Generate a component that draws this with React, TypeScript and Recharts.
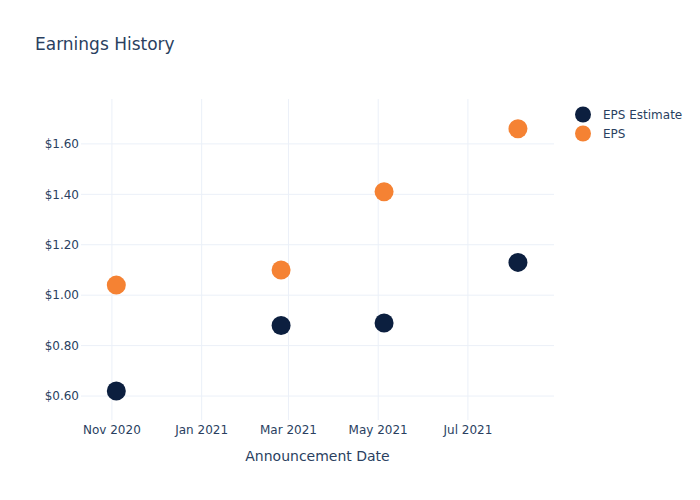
import React from "react";
import {
  ScatterChart,
  Scatter,
  XAxis,
  YAxis,
  CartesianGrid,
} from "recharts";

const announceDates = [
  Date.UTC(2020, 10, 4),
  Date.UTC(2021, 1, 24),
  Date.UTC(2021, 4, 5),
  Date.UTC(2021, 7, 4),
];
const epsEstimate = [0.62, 0.88, 0.89, 1.13];
const epsActual = [1.04, 1.1, 1.41, 1.66];

const xTicks = [
  Date.UTC(2020, 10, 1),
  Date.UTC(2021, 0, 1),
  Date.UTC(2021, 2, 1),
  Date.UTC(2021, 4, 1),
  Date.UTC(2021, 6, 1),
];
const yTicks = [0.6, 0.8, 1.0, 1.2, 1.4, 1.6];
const months = ["Jan", "Feb", "Mar", "Apr", "May", "Jun", "Jul", "Aug", "Sep", "Oct", "Nov", "Dec"];

const NAVY = "#0c1f3f";
const ORANGE = "#f58233";
const TEXT = "#2a3f5f";
const FONT = "'DejaVu Sans', Verdana, sans-serif";

const estimateData = announceDates.map((d, i) => ({ date: d, value: epsEstimate[i] }));
const actualData = announceDates.map((d, i) => ({ date: d, value: epsActual[i] }));

const Dot = (color: string) => (props: any) => (
  <circle cx={props.cx} cy={props.cy} r={9.5} fill={color} />
);

const series = [
  { name: "EPS Estimate", color: NAVY },
  { name: "EPS", color: ORANGE },
];

function LegendBox() {
  return (
    <div
      style={{
        position: "absolute",
        left: 574,
        top: 105,
        fontFamily: FONT,
        fontSize: 12,
        color: TEXT,
      }}
    >
      {series.map((s) => (
        <div key={s.name} style={{ display: "flex", alignItems: "center", height: 19 }}>
          <svg width={20} height={19}>
            <circle cx={9} cy={9.5} r={8} fill={s.color} />
          </svg>
          <span style={{ marginLeft: 9 }}>{s.name}</span>
        </div>
      ))}
    </div>
  );
}

export default function App() {
  return (
    <div style={{ position: "absolute", left: 0, top: 0, width: 700, height: 500, background: "#fff" }}>
      <div
        style={{
          position: "absolute",
          left: 35,
          top: 34,
          fontFamily: FONT,
          fontSize: 17,
          color: TEXT,
        }}
      >
        Earnings History
      </div>
      <ScatterChart
        width={700}
        height={500}
        margin={{ top: 99, right: 146, bottom: 0, left: 1 }}
        style={{ fontFamily: FONT }}
      >
        <CartesianGrid stroke="#ebf0f8" strokeWidth={1} syncWithTicks />
        <XAxis
          type="number"
          dataKey="date"
          domain={[Date.UTC(2020, 9, 11), Date.UTC(2021, 7, 28, 12)]}
          ticks={xTicks}
          tickFormatter={(v: number) => {
            const d = new Date(v);
            return `${months[d.getUTCMonth()]} ${d.getUTCFullYear()}`;
          }}
          axisLine={false}
          tickLine={false}
          tickSize={0}
          tickMargin={5}
          height={80}
          tick={{ fill: TEXT, fontSize: 12 }}
          label={{
            value: "Announcement Date",
            position: "insideTop",
            offset: 31,
            fill: TEXT,
            fontSize: 14,
          }}
          allowDataOverflow
        />
        <YAxis
          type="number"
          dataKey="value"
          domain={[0.505, 1.778]}
          ticks={yTicks}
          tickFormatter={(v: number) => `$${v.toFixed(2)}`}
          axisLine={false}
          tickLine={false}
          tickSize={0}
          tickMargin={2}
          width={80}
          tick={{ fill: TEXT, fontSize: 12 }}
          allowDataOverflow
        />
        <Scatter
          name="EPS Estimate"
          data={estimateData}
          fill={NAVY}
          shape={Dot(NAVY)}
          isAnimationActive={false}
        />
        <Scatter
          name="EPS"
          data={actualData}
          fill={ORANGE}
          shape={Dot(ORANGE)}
          isAnimationActive={false}
        />
      </ScatterChart>
      <LegendBox />
    </div>
  );
}
